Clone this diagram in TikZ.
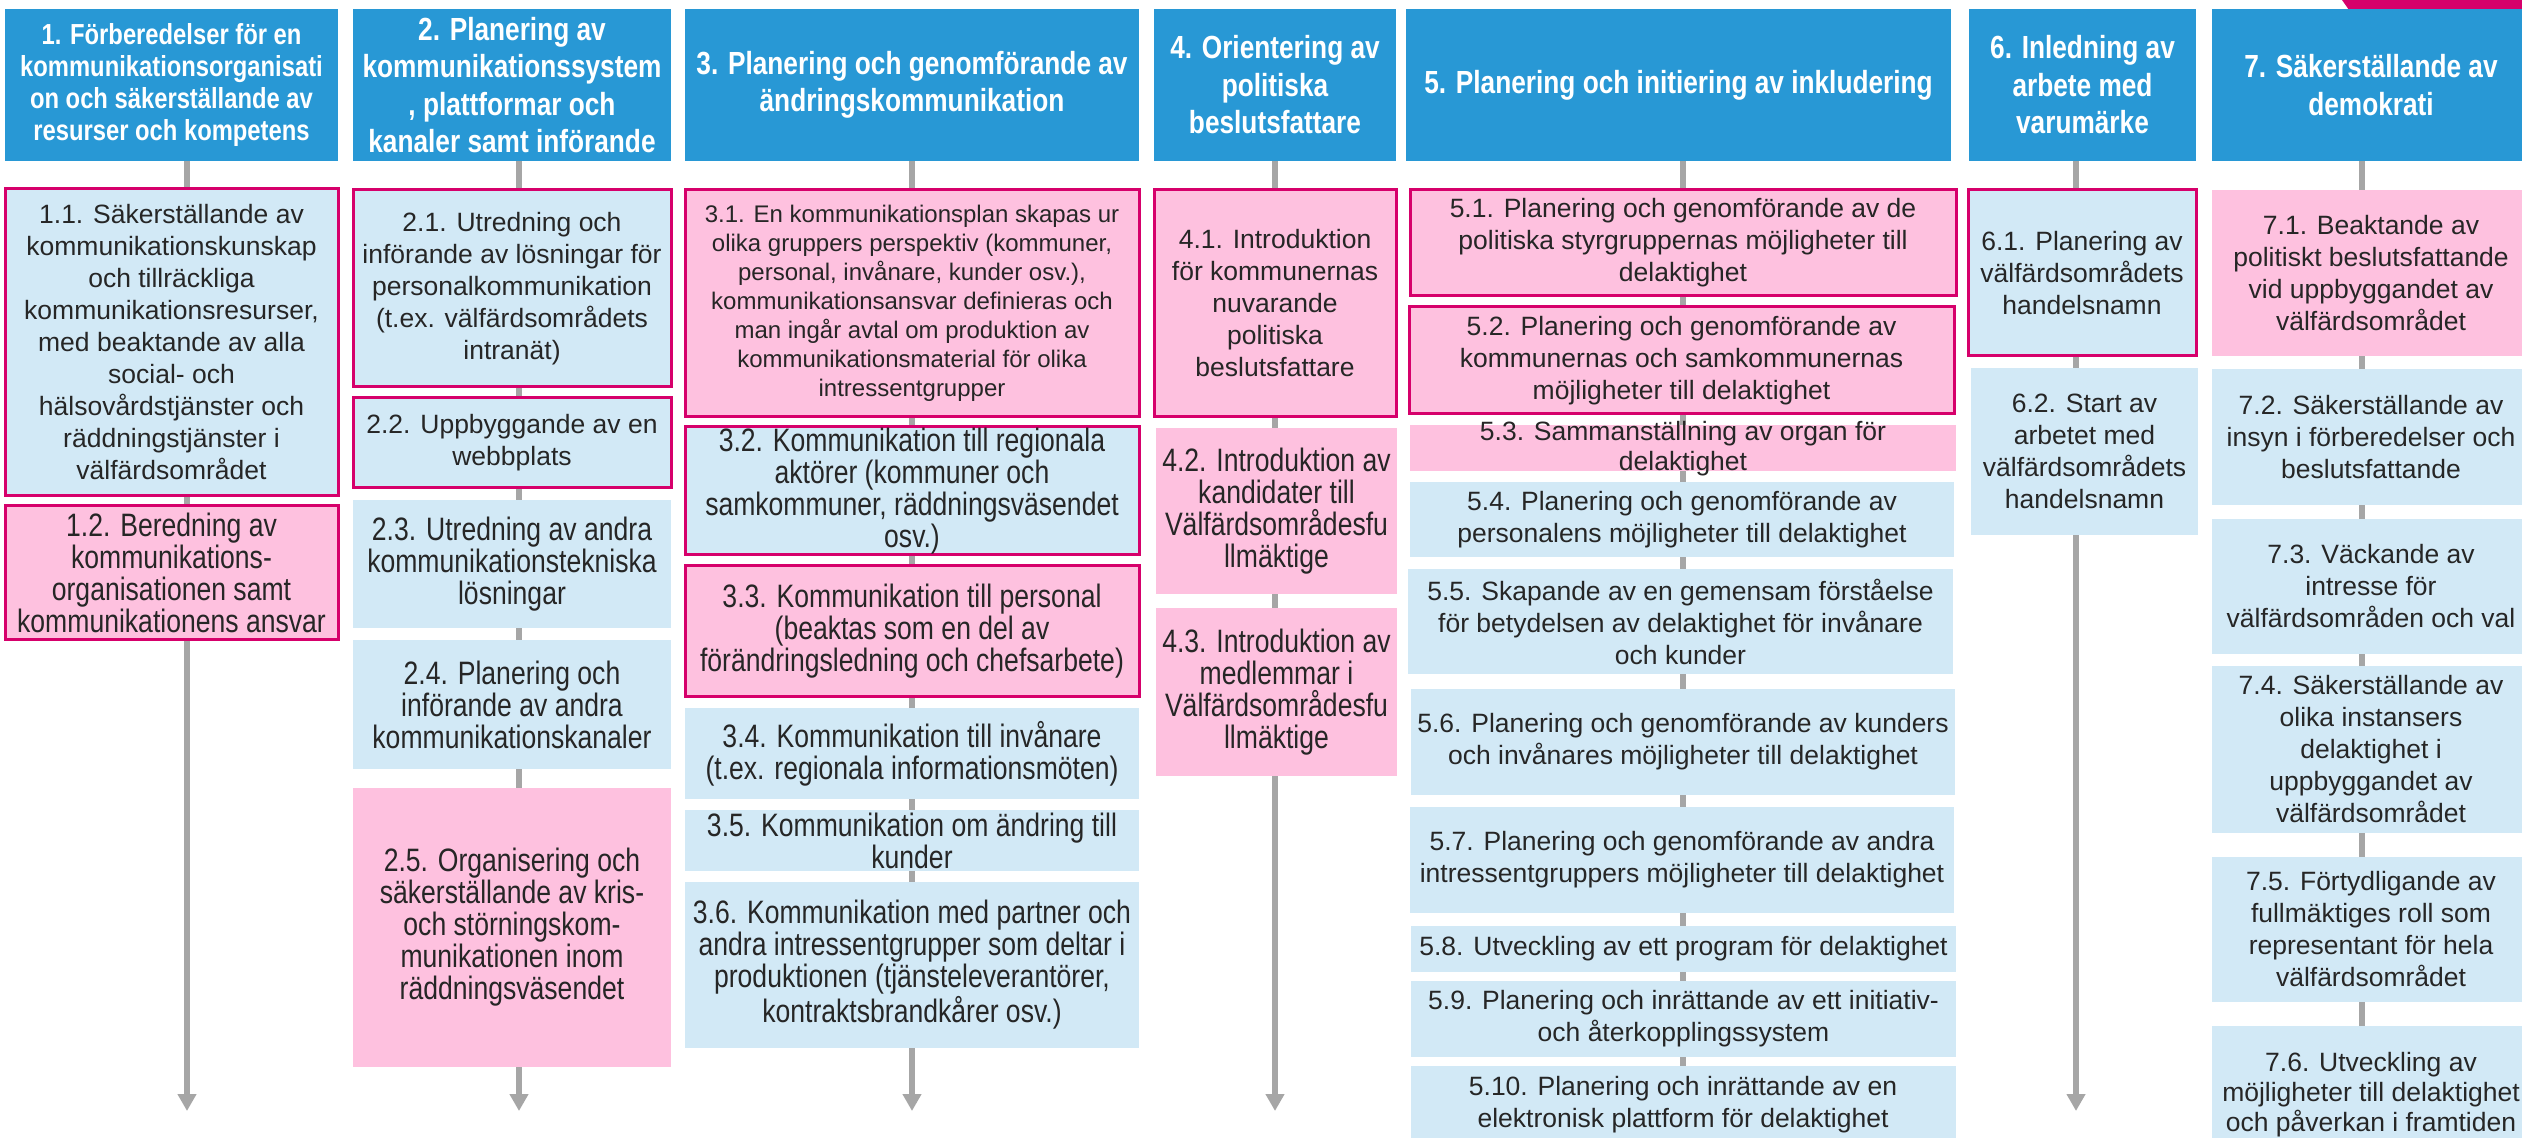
\documentclass[tikz,border=0pt]{standalone}
\usepackage{fontspec}
\setmainfont{Liberation Sans}
\newfontfamily\narrowfam[FakeStretch=0.82]{Liberation Sans}
\usetikzlibrary{arrows.meta}
\definecolor{hblue}{HTML}{2898D5}
\definecolor{lblue}{HTML}{D2E9F6}
\definecolor{pinkf}{HTML}{FEC1DF}
\definecolor{mag}{HTML}{D6006B}
\definecolor{grayl}{HTML}{A6A6A6}
\definecolor{txtc}{HTML}{262626}
\newcommand\regfont{\fontsize{13.25}{16}\selectfont}
\newcommand\smallfnt{\fontsize{12}{14.5}\selectfont}
\newcommand\narfont{\narrowfam\fontsize{16.2}{16}\selectfont}
\newcommand\hdrfont{\narrowfam\bfseries\fontsize{16}{18.75}\selectfont}
\newcommand\hdrfontA{\narrowfam\bfseries\fontsize{14.5}{16}\selectfont}
\newcommand\mybox[7]{%
  \pgfmathsetmacro\myw{(#5-#3)/2}%
  \pgfmathsetmacro\myh{(#6-#4)/2}%
  \node[#2, minimum width=\myw pt, minimum height=\myh pt] (#1) at ({(#3+#5)/2},{(#4+#6)/2}) {#7};}
\tikzset{
  base/.style={inner sep=0pt, outer sep=0pt, align=center, text=txtc, font=\regfont},
  hdr/.style={base, fill=hblue, text=white, font=\hdrfont},
  lbb/.style={base, fill=lblue, draw=mag, line width=1.5pt},
  pkb/.style={base, fill=pinkf, draw=mag, line width=1.5pt},
  lb/.style={base, fill=lblue},
  pk/.style={base, fill=pinkf},
  nar/.style={font=\narfont},
  sml/.style={font=\smallfnt},
  freetxt/.style={inner sep=0pt, align=center, text=txtc, font=\regfont},
  conn/.style={draw=grayl, line width=2.75pt},
  connarr/.style={conn, -{Triangle[width=9pt,length=8.5pt]}},
}
\begin{document}
\begin{tikzpicture}[x=0.5pt,y=-0.5pt]
\useasboundingbox (0,0) rectangle (2522,1138);
\clip (0,0) rectangle (2522,1138);
\fill[white] (0,0) rectangle (2522,1138);
\fill[mag] (2342,0) -- (2530,0) -- (2530,10) -- (2349,10) -- cycle;
% headers
\mybox{h1}{hdr,font=\hdrfontA}{5}{9}{338}{161}{1. Förberedelser för en\\kommunikationsorganisati\\on och säkerställande av\\resurser och kompetens}
\mybox{h2}{hdr}{353}{9}{671}{161}{2. Planering av\\kommunikationssystem\\, plattformar och\\kanaler samt införande}
\mybox{h3}{hdr}{685}{9}{1139}{161}{3. Planering och genomförande av\\ändringskommunikation}
\mybox{h4}{hdr}{1154}{9}{1396}{161}{4. Orientering av\\politiska\\beslutsfattare}
\mybox{h5}{hdr}{1406}{9}{1951}{161}{5. Planering och initiering av inkludering}
\mybox{h6}{hdr}{1969}{9}{2196}{161}{6. Inledning av\\arbete med\\varumärke}
\mybox{h7}{hdr}{2212}{9}{2530}{161}{7. Säkerställande av\\demokrati}
% connector ends
\coordinate (e1) at (187,1111);
\coordinate (e2) at (519,1111);
\coordinate (e3) at (912,1111);
\coordinate (e4) at (1275,1111);
\coordinate (e5) at (1683,1145);
\coordinate (e6) at (2076,1111);
\coordinate (e7) at (2362,1145);
\draw[connarr] (h1.south -| e1) -- (e1);
\draw[connarr] (h2.south -| e2) -- (e2);
\draw[connarr] (h3.south -| e3) -- (e3);
\draw[connarr] (h4.south -| e4) -- (e4);
\draw[conn] (h5.south -| e5) -- (e5);
\draw[connarr] (h6.south -| e6) -- (e6);
\draw[conn] (h7.south -| e7) -- (e7);
% column 1
\mybox{b11}{lbb}{5}{189}{338}{496}{1.1. Säkerställande av\\kommunikationskunskap\\och tillräckliga\\kommunikationsresurser,\\med beaktande av alla\\social- och\\hälsovårdstjänster och\\räddningstjänster i\\välfärdsområdet}
\mybox{b12}{pkb,nar}{5}{506}{338}{640}{1.2. Beredning av\\kommunikations-\\organisationen samt\\kommunikationens ansvar}
% column 2
\mybox{b21}{lbb}{353}{190}{671}{387}{2.1. Utredning och\\införande av lösningar för\\personalkommunikation\\(t.ex. välfärdsområdets\\intranät)}
\mybox{b22}{lbb}{353}{398}{671}{488}{2.2. Uppbyggande av en\\webbplats}
\mybox{b23}{lb,nar}{353}{500}{671}{628}{2.3. Utredning av andra\\kommunikationstekniska\\lösningar}
\mybox{b24}{lb,nar}{353}{640}{671}{769}{2.4. Planering och\\införande av andra\\kommunikationskanaler}
\mybox{b25}{pk,nar}{353}{788}{671}{1067}{2.5. Organisering och\\säkerställande av kris-\\och störningskom-\\munikationen inom\\räddningsväsendet}
% column 3
\mybox{b31}{pkb,sml}{685}{190}{1139}{417}{3.1. En kommunikationsplan skapas ur\\olika gruppers perspektiv (kommuner,\\personal, invånare, kunder osv.),\\kommunikationsansvar definieras och\\man ingår avtal om produktion av\\kommunikationsmaterial för olika\\intressentgrupper}
\mybox{b32}{lbb,nar}{685}{427}{1139}{555}{3.2. Kommunikation till regionala\\aktörer (kommuner och\\samkommuner, räddningsväsendet\\osv.)}
\mybox{b33}{pkb,nar}{685}{566}{1139}{696}{3.3. Kommunikation till personal\\(beaktas som en del av\\förändringsledning och chefsarbete)}
\mybox{b34}{lb,nar}{685}{708}{1139}{799}{3.4. Kommunikation till invånare\\(t.ex. regionala informationsmöten)}
\mybox{b35}{lb,nar}{685}{810}{1139}{871}{3.5. Kommunikation om ändring till\\kunder}
\mybox{b36}{lb,nar}{685}{882}{1139}{1048}{3.6. Kommunikation med partner och\\andra intressentgrupper som deltar i\\produktionen (tjänsteleverantörer,\\kontraktsbrandkårer osv.)}
% column 4
\mybox{b41}{pkb}{1154}{190}{1396}{417}{4.1. Introduktion\\för kommunernas\\nuvarande\\politiska\\beslutsfattare}
\mybox{b42}{pk,nar}{1156}{428}{1397}{594}{4.2. Introduktion av\\kandidater till\\Välfärdsområdesfu\\llmäktige}
\mybox{b43}{pk,nar}{1156}{608}{1397}{776}{4.3. Introduktion av\\medlemmar i\\Välfärdsområdesfu\\llmäktige}
% column 5
\mybox{b51}{pkb}{1410}{190}{1956}{296}{5.1. Planering och genomförande av de\\politiska styrgruppernas möjligheter till\\delaktighet}
\mybox{b52}{pkb}{1409}{307}{1954}{414}{5.2. Planering och genomförande av\\kommunernas och samkommunernas\\möjligheter till delaktighet}
\mybox{b53}{pk}{1410}{425}{1956}{471}{}
\node[freetxt, font=\fontsize{13.25}{15}\selectfont] (t53) at (1683,449) {5.3. Sammanställning av organ för\\delaktighet};
\mybox{b54}{lb}{1410}{482}{1954}{557}{5.4. Planering och genomförande av\\personalens möjligheter till delaktighet}
\mybox{b55}{lb}{1408}{569}{1953}{674}{5.5. Skapande av en gemensam förståelse\\för betydelsen av delaktighet för invånare\\och kunder}
\mybox{b56}{lb}{1411}{689}{1955}{795}{5.6. Planering och genomförande av kunders\\och invånares möjligheter till delaktighet}
\mybox{b57}{lb}{1410}{807}{1954}{913}{5.7. Planering och genomförande av andra\\intressentgruppers möjligheter till delaktighet}
\mybox{b58}{lb}{1411}{926}{1956}{972}{5.8. Utveckling av ett program för delaktighet}
\mybox{b59}{lb}{1411}{981}{1956}{1057}{5.9. Planering och inrättande av ett initiativ-\\och återkopplingssystem}
\mybox{b510}{lb}{1411}{1066}{1956}{1150}{}
\node[freetxt] (t510) at (1683,1105) {5.10. Planering och inrättande av en\\elektronisk plattform för delaktighet};
% column 6
\mybox{b61}{lbb}{1968}{190}{2196}{356}{6.1. Planering av\\välfärdsområdets\\handelsnamn}
\mybox{b62}{lb}{1971}{368}{2198}{535}{6.2. Start av\\arbetet med\\välfärdsområdets\\handelsnamn}
% column 7
\mybox{b71}{pk}{2212}{190}{2530}{356}{7.1. Beaktande av\\politiskt beslutsfattande\\vid uppbyggandet av\\välfärdsområdet}
\mybox{b72}{lb}{2212}{369}{2530}{505}{7.2. Säkerställande av\\insyn i förberedelser och\\beslutsfattande}
\mybox{b73}{lb}{2212}{519}{2530}{654}{7.3. Väckande av\\intresse för\\välfärdsområden och val}
\mybox{b74}{lb}{2212}{666}{2530}{833}{7.4. Säkerställande av\\olika instansers\\delaktighet i\\uppbyggandet av\\välfärdsområdet}
\mybox{b75}{lb}{2212}{857}{2530}{1002}{7.5. Förtydligande av\\fullmäktiges roll som\\representant för hela\\välfärdsområdet}
\mybox{b76}{lb}{2212}{1026}{2530}{1150}{}
\node[freetxt, font=\fontsize{13.25}{15}\selectfont] (t76) at (2371,1095) {7.6. Utveckling av\\möjligheter till delaktighet\\och påverkan i framtiden};
\end{tikzpicture}
\end{document}
